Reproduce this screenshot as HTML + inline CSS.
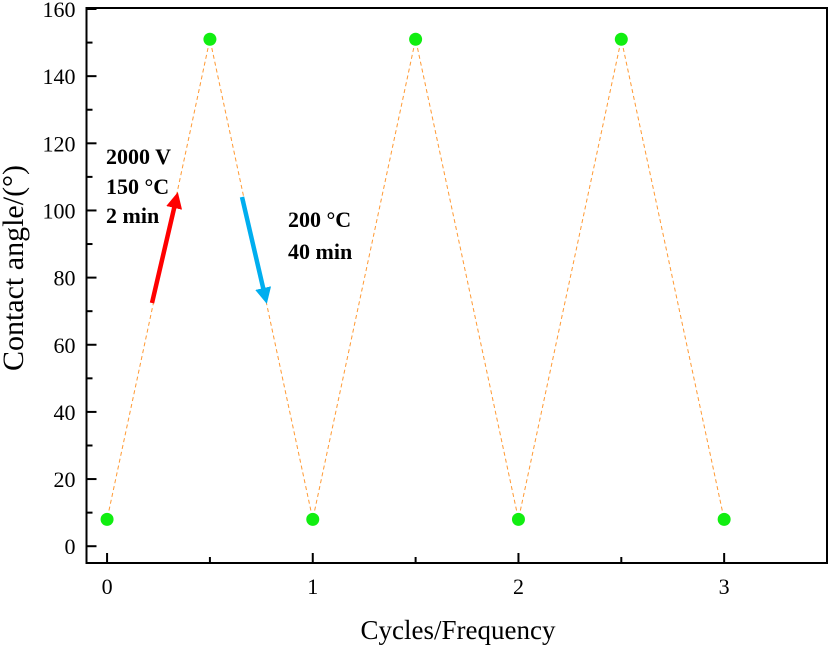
<!DOCTYPE html>
<html><head><meta charset="utf-8"><style>
body{margin:0;background:#fff;}
svg text{font-family:"Liberation Serif",serif;}
</style></head><body>
<svg id="chart" width="832" height="645" viewBox="0 0 832 645" xmlns="http://www.w3.org/2000/svg">
<defs>
<marker id="ahRed" markerWidth="3.6" markerHeight="3.6" refX="1.8" refY="1.8" orient="auto" markerUnits="strokeWidth"><path d="M0,0 L3.6,1.8 L0,3.6 z" fill="#ff0000"/></marker>
<marker id="ahBlue" markerWidth="3.6" markerHeight="3.6" refX="1.8" refY="1.8" orient="auto" markerUnits="strokeWidth"><path d="M0,0 L3.6,1.8 L0,3.6 z" fill="#00aeef"/></marker>
</defs>
<g id="plot"></g>
</svg>
<script>
const cycles = [0, 0.5, 1, 1.5, 2, 2.5, 3];
const angles = [8, 151, 8, 151, 8, 151, 8];
const xTicks = [0, 1, 2, 3];
const yTicks = [0, 20, 40, 60, 80, 100, 120, 140, 160];

const L = 86.5, R = 827, T = 8, B = 563;
const xMin = -0.1, xMax = 3.5, yMin = -5, yMax = 160.3;
const sx = v => L + (v - xMin) / (xMax - xMin) * (R - L);
const sy = v => B - (v - yMin) / (yMax - yMin) * (B - T);
const NS = 'http://www.w3.org/2000/svg';
const g = document.getElementById('plot');
function mk(tag, attrs, parent) {
  const e = document.createElementNS(NS, tag);
  for (const k in attrs) e.setAttribute(k, attrs[k]);
  (parent || g).appendChild(e);
  return e;
}

for (let i = 0; i < cycles.length - 1; i++) {
  const x1 = sx(cycles[i]), y1 = sy(angles[i]), x2 = sx(cycles[i+1]), y2 = sy(angles[i+1]);
  const d = Math.hypot(x2 - x1, y2 - y1), ux = (x2 - x1) / d, uy = (y2 - y1) / d, gap = 9;
  const seg = mk('line', {x1: x1 + ux*gap, y1: y1 + uy*gap, x2: x2 - ux*gap, y2: y2 - uy*gap, stroke: '#ff9933', 'stroke-width': 1, 'stroke-dasharray': '4,3'});
  
  
}
for (let i = 0; i < cycles.length; i++) {
  const c = mk('circle', {cx: sx(cycles[i]), cy: sy(angles[i]), r: 6.5, fill: '#11ee11'});
  
  
}

const frame = mk('rect', {x: L, y: T, width: R - L, height: B - T, fill: 'none', stroke: '#000', 'stroke-width': 2});



yTicks.forEach((v, i) => {
  const y = sy(v);
  const t = mk('line', {x1: L, y1: y, x2: L + 10, y2: y, stroke: '#000', 'stroke-width': 2});
  
  
  const lb = mk('text', {x: L - 11, y: y + 8, 'text-anchor': 'end', 'font-size': 22});
  lb.textContent = v;
  
  
  if (i < yTicks.length - 1) {
    const m = mk('line', {x1: L, y1: sy(v + 10), x2: L + 6, y2: sy(v + 10), stroke: '#000', 'stroke-width': 2});
    
    
  }
});
xTicks.forEach(v => {
  const x = sx(v);
  const t = mk('line', {x1: x, y1: B, x2: x, y2: B - 10, stroke: '#000', 'stroke-width': 2});
  
  
  const lb = mk('text', {x: x, y: B + 31, 'text-anchor': 'middle', 'font-size': 22});
  lb.textContent = v;
  
  
  const m = mk('line', {x1: sx(v + 0.5), y1: B, x2: sx(v + 0.5), y2: B - 6, stroke: '#000', 'stroke-width': 2});
  
  
});

const xt = mk('text', {x: 458, y: 639, 'text-anchor': 'middle', 'font-size': 27});
xt.textContent = 'Cycles/Frequency';


const yt = mk('text', {x: 0, y: 0, 'text-anchor': 'middle', 'font-size': 30, transform: 'translate(23,268) rotate(-90)'});
yt.textContent = 'Contact angle/(°)';



const a1 = mk('line', {x1: 152, y1: 303, x2: 176, y2: 200, stroke: '#ff0000', 'stroke-width': 4.5, 'marker-end': 'url(#ahRed)'});


const a2 = mk('line', {x1: 242, y1: 197, x2: 265, y2: 296, stroke: '#00aeef', 'stroke-width': 4.5, 'marker-end': 'url(#ahBlue)'});



[['2000 V', 106, 164], ['150 °C', 106, 194], ['2 min', 106, 223]].forEach(a => {
  const t = mk('text', {x: a[1], y: a[2], 'font-size': 22, 'font-weight': 'bold'});
  t.textContent = a[0];
  
  
});
[['200 °C', 288, 227], ['40 min', 288, 259]].forEach(a => {
  const t = mk('text', {x: a[1], y: a[2], 'font-size': 22, 'font-weight': 'bold'});
  t.textContent = a[0];
  
  
});
</script>
</body></html>
